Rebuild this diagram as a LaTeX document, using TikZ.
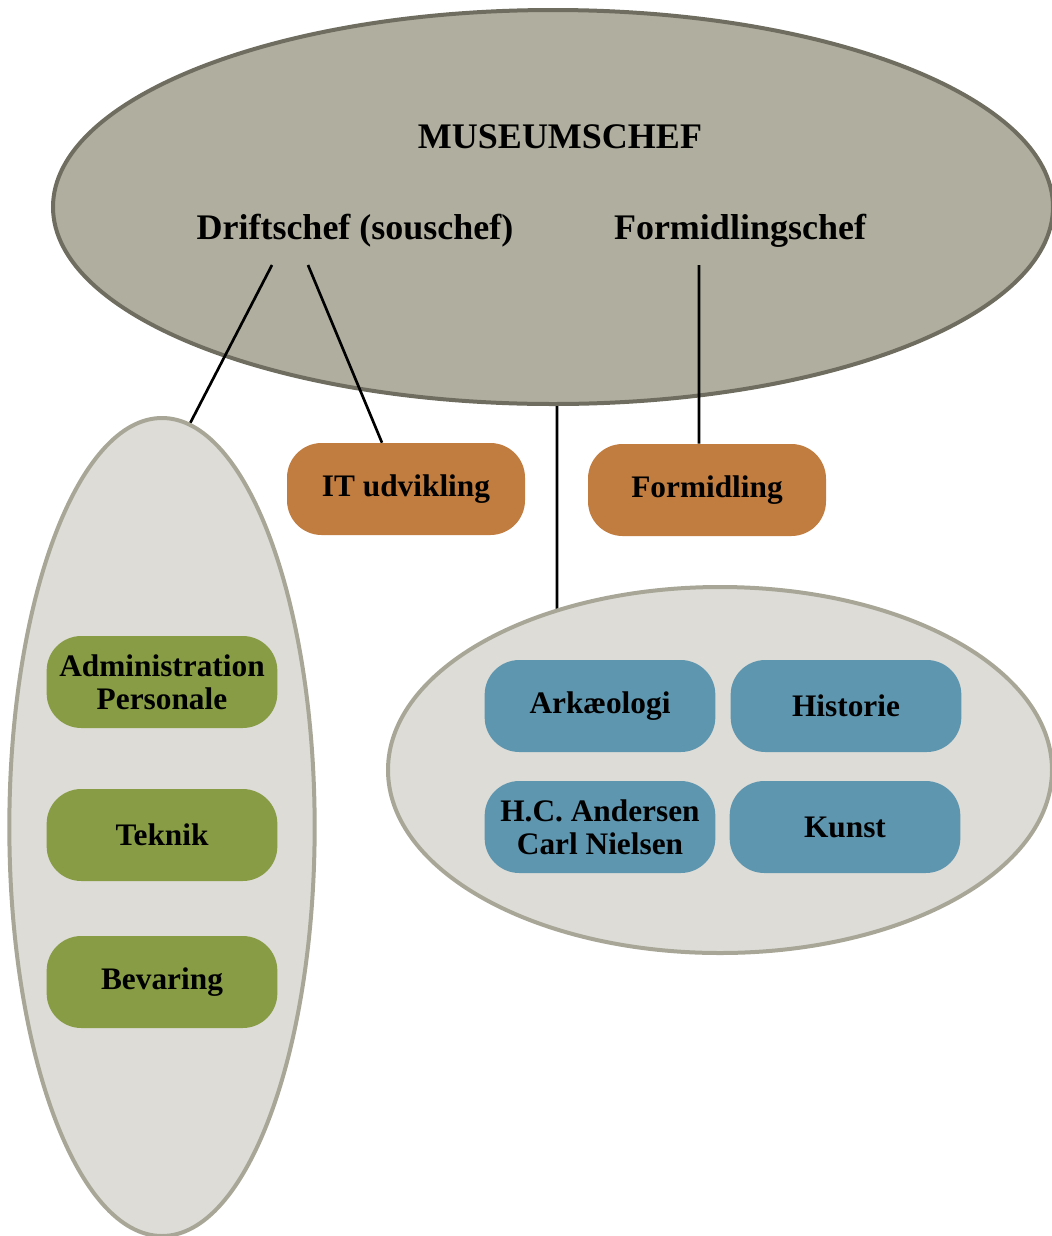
\documentclass[tikz,border=0pt]{standalone}
\usepackage{fontspec}
\setmainfont{Liberation Serif}
\usetikzlibrary{shapes.geometric,calc}
\definecolor{chefgray}{HTML}{B0AF9F}
\definecolor{chefedge}{HTML}{6E6D5F}
\definecolor{unitgray}{HTML}{DDDCD7}
\definecolor{unitedge}{HTML}{A8A797}
\definecolor{itorange}{HTML}{C17C40}
\definecolor{driftgreen}{HTML}{879C45}
\definecolor{samlblue}{HTML}{5F96AF}
\pgfdeclarelayer{back}
\pgfdeclarelayer{links}
\pgfsetlayers{back,links,main}

\begin{document}
\begin{tikzpicture}[x=0.75pt,y=-0.75pt,
   every node/.style={align=center,font=\bfseries},
   group/.style={ellipse,inner sep=0pt,line width=3pt},
   unit/.style={rounded corners=26pt,minimum width=173pt,minimum height=69pt,
                inner sep=0pt,font=\bfseries\fontsize{23.5}{25}\selectfont},
   head/.style={font=\bfseries\fontsize{27}{30}\selectfont}]
\useasboundingbox (0,0) rectangle (1052,1236);
\begin{pgfonlayer}{back}
   \node (top) [group,fill=chefgray,draw=chefedge,minimum width=750pt,minimum height=295.5pt] at (553,207) {};
\end{pgfonlayer}
\node (chef) [head] at (560,137) {MUSEUMSCHEF};
\node (drift) [head] at (355,231) {Driftschef (souschef)};
\node (formchef) [head] at (740,231) {Formidlingschef};

% lower groups
\node (left) [group,fill=unitgray,draw=unitedge,minimum width=229pt,minimum height=613.5pt] at (162,827) {};
\node (right) [group,fill=unitgray,draw=unitedge,minimum width=498pt,minimum height=274.5pt] at (720,770) {};

\node (it) [unit,fill=itorange,minimum width=178.5pt] at (406,489) {IT udvikling};
\node (form) [unit,fill=itorange,minimum width=178.5pt] at (707,490) {Formidling};

\node (adm) [unit,fill=driftgreen] at (162,682) {Administration\\Personale};
\node (tek) [unit,fill=driftgreen] at (162,835) {Teknik};
\node (bev) [unit,fill=driftgreen] at (162,982) {Bevaring};

\node (ark) [unit,fill=samlblue] at (600,706) {Ark\ae ologi};
\node (his) [unit,fill=samlblue] at (846,706) {Historie};
\node (hca) [unit,fill=samlblue] at (600,827) {H.C. Andersen\\Carl Nielsen};
\node (kun) [unit,fill=samlblue] at (845,827) {Kunst};

\coordinate (d0) at (272,265);
\coordinate (d1) at (308,265);
\coordinate (f0) at (699,265);
\begin{pgfonlayer}{links}
\draw [line width=2pt] (d0) -- (left.86)
      (d1) -- ([xshift=-18]it.north)
      (f0) -- (f0 |- form.north)
      ([xshift=3]top.south) -- ([xshift=3]top.south |- right.center)
;
\end{pgfonlayer}
\end{tikzpicture}
\end{document}
